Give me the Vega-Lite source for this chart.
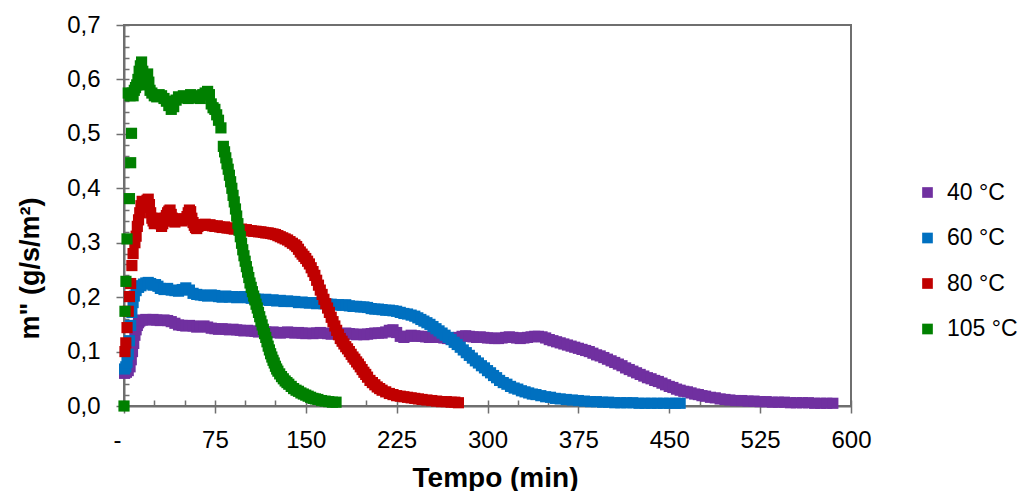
{
"$schema":"https://vega.github.io/schema/vega-lite/v6.json",
"width":727,"height":381,
"autosize":{"type":"none"},
"padding":{"left":124,"top":25,"right":175,"bottom":85},
"background":"white",
"config":{"view":{"stroke":"#6f6f6f","strokeWidth":2},"font":"Liberation Sans"},
"datasets":{"d":[
{"s":"40 °C","t":0.5,"m":0.06},{"s":"40 °C","t":2,"m":0.062},{"s":"40 °C","t":3.5,"m":0.065},{"s":"40 °C","t":5,"m":0.072},{"s":"40 °C","t":6,"m":0.085},{"s":"40 °C","t":7,"m":0.1},{"s":"40 °C","t":8,"m":0.115},{"s":"40 °C","t":9,"m":0.13},{"s":"40 °C","t":10,"m":0.14},{"s":"40 °C","t":11,"m":0.148},{"s":"40 °C","t":12,"m":0.153},{"s":"40 °C","t":13,"m":0.156},{"s":"40 °C","t":15,"m":0.158},{"s":"40 °C","t":18,"m":0.159},{"s":"40 °C","t":21,"m":0.158},{"s":"40 °C","t":24,"m":0.159},{"s":"40 °C","t":27,"m":0.158},{"s":"40 °C","t":30,"m":0.157},{"s":"40 °C","t":33,"m":0.158},{"s":"40 °C","t":36,"m":0.157},{"s":"40 °C","t":39,"m":0.155},{"s":"40 °C","t":42,"m":0.152},{"s":"40 °C","t":45,"m":0.149},{"s":"40 °C","t":48,"m":0.148},{"s":"40 °C","t":51,"m":0.147},{"s":"40 °C","t":54,"m":0.148},{"s":"40 °C","t":57,"m":0.147},{"s":"40 °C","t":60,"m":0.145},{"s":"40 °C","t":63,"m":0.146},{"s":"40 °C","t":66,"m":0.147},{"s":"40 °C","t":69,"m":0.145},{"s":"40 °C","t":72,"m":0.143},{"s":"40 °C","t":75,"m":0.142},{"s":"40 °C","t":78,"m":0.141},{"s":"40 °C","t":81,"m":0.142},{"s":"40 °C","t":84,"m":0.141},{"s":"40 °C","t":87,"m":0.14},{"s":"40 °C","t":90,"m":0.141},{"s":"40 °C","t":93,"m":0.14},{"s":"40 °C","t":96,"m":0.139},{"s":"40 °C","t":99,"m":0.138},{"s":"40 °C","t":102,"m":0.139},{"s":"40 °C","t":105,"m":0.138},{"s":"40 °C","t":108,"m":0.137},{"s":"40 °C","t":111,"m":0.136},{"s":"40 °C","t":114,"m":0.137},{"s":"40 °C","t":117,"m":0.136},{"s":"40 °C","t":120,"m":0.135},{"s":"40 °C","t":123,"m":0.136},{"s":"40 °C","t":126,"m":0.135},{"s":"40 °C","t":129,"m":0.134},{"s":"40 °C","t":132,"m":0.135},{"s":"40 °C","t":135,"m":0.136},{"s":"40 °C","t":138,"m":0.135},{"s":"40 °C","t":141,"m":0.134},{"s":"40 °C","t":144,"m":0.135},{"s":"40 °C","t":147,"m":0.134},{"s":"40 °C","t":150,"m":0.133},{"s":"40 °C","t":153,"m":0.134},{"s":"40 °C","t":156,"m":0.133},{"s":"40 °C","t":159,"m":0.134},{"s":"40 °C","t":162,"m":0.135},{"s":"40 °C","t":165,"m":0.134},{"s":"40 °C","t":168,"m":0.133},{"s":"40 °C","t":171,"m":0.132},{"s":"40 °C","t":174,"m":0.133},{"s":"40 °C","t":177,"m":0.132},{"s":"40 °C","t":180,"m":0.133},{"s":"40 °C","t":183,"m":0.134},{"s":"40 °C","t":186,"m":0.133},{"s":"40 °C","t":189,"m":0.132},{"s":"40 °C","t":192,"m":0.131},{"s":"40 °C","t":195,"m":0.132},{"s":"40 °C","t":198,"m":0.131},{"s":"40 °C","t":201,"m":0.132},{"s":"40 °C","t":204,"m":0.133},{"s":"40 °C","t":207,"m":0.134},{"s":"40 °C","t":210,"m":0.134},{"s":"40 °C","t":213,"m":0.134},{"s":"40 °C","t":216,"m":0.136},{"s":"40 °C","t":219,"m":0.139},{"s":"40 °C","t":222,"m":0.14},{"s":"40 °C","t":225,"m":0.135},{"s":"40 °C","t":228,"m":0.128},{"s":"40 °C","t":231,"m":0.126},{"s":"40 °C","t":234,"m":0.128},{"s":"40 °C","t":237,"m":0.13},{"s":"40 °C","t":240,"m":0.129},{"s":"40 °C","t":243,"m":0.128},{"s":"40 °C","t":246,"m":0.128},{"s":"40 °C","t":249,"m":0.127},{"s":"40 °C","t":252,"m":0.126},{"s":"40 °C","t":255,"m":0.127},{"s":"40 °C","t":258,"m":0.127},{"s":"40 °C","t":261,"m":0.126},{"s":"40 °C","t":264,"m":0.125},{"s":"40 °C","t":267,"m":0.124},{"s":"40 °C","t":270,"m":0.124},{"s":"40 °C","t":273,"m":0.125},{"s":"40 °C","t":276,"m":0.126},{"s":"40 °C","t":279,"m":0.128},{"s":"40 °C","t":282,"m":0.129},{"s":"40 °C","t":285,"m":0.128},{"s":"40 °C","t":288,"m":0.127},{"s":"40 °C","t":291,"m":0.126},{"s":"40 °C","t":294,"m":0.127},{"s":"40 °C","t":297,"m":0.126},{"s":"40 °C","t":300,"m":0.125},{"s":"40 °C","t":303,"m":0.125},{"s":"40 °C","t":306,"m":0.124},{"s":"40 °C","t":309,"m":0.124},{"s":"40 °C","t":312,"m":0.125},{"s":"40 °C","t":315,"m":0.126},{"s":"40 °C","t":318,"m":0.127},{"s":"40 °C","t":321,"m":0.126},{"s":"40 °C","t":324,"m":0.125},{"s":"40 °C","t":327,"m":0.124},{"s":"40 °C","t":330,"m":0.125},{"s":"40 °C","t":333,"m":0.126},{"s":"40 °C","t":336,"m":0.127},{"s":"40 °C","t":339,"m":0.128},{"s":"40 °C","t":342,"m":0.128},{"s":"40 °C","t":345,"m":0.127},{"s":"40 °C","t":348,"m":0.125},{"s":"40 °C","t":351,"m":0.122},{"s":"40 °C","t":354,"m":0.12},{"s":"40 °C","t":357,"m":0.118},{"s":"40 °C","t":360,"m":0.116},{"s":"40 °C","t":363,"m":0.114},{"s":"40 °C","t":366,"m":0.112},{"s":"40 °C","t":369,"m":0.11},{"s":"40 °C","t":372,"m":0.108},{"s":"40 °C","t":375,"m":0.106},{"s":"40 °C","t":378,"m":0.104},{"s":"40 °C","t":381,"m":0.102},{"s":"40 °C","t":384,"m":0.1},{"s":"40 °C","t":387,"m":0.097},{"s":"40 °C","t":390,"m":0.094},{"s":"40 °C","t":393,"m":0.092},{"s":"40 °C","t":396,"m":0.089},{"s":"40 °C","t":399,"m":0.086},{"s":"40 °C","t":402,"m":0.083},{"s":"40 °C","t":405,"m":0.08},{"s":"40 °C","t":408,"m":0.077},{"s":"40 °C","t":411,"m":0.074},{"s":"40 °C","t":414,"m":0.07},{"s":"40 °C","t":417,"m":0.067},{"s":"40 °C","t":420,"m":0.064},{"s":"40 °C","t":423,"m":0.061},{"s":"40 °C","t":426,"m":0.058},{"s":"40 °C","t":429,"m":0.055},{"s":"40 °C","t":432,"m":0.052},{"s":"40 °C","t":435,"m":0.05},{"s":"40 °C","t":438,"m":0.047},{"s":"40 °C","t":441,"m":0.045},{"s":"40 °C","t":444,"m":0.042},{"s":"40 °C","t":447,"m":0.039},{"s":"40 °C","t":450,"m":0.036},{"s":"40 °C","t":453,"m":0.034},{"s":"40 °C","t":456,"m":0.031},{"s":"40 °C","t":459,"m":0.029},{"s":"40 °C","t":462,"m":0.027},{"s":"40 °C","t":465,"m":0.026},{"s":"40 °C","t":468,"m":0.024},{"s":"40 °C","t":471,"m":0.022},{"s":"40 °C","t":474,"m":0.021},{"s":"40 °C","t":477,"m":0.019},{"s":"40 °C","t":480,"m":0.018},{"s":"40 °C","t":484,"m":0.016},{"s":"40 °C","t":488,"m":0.015},{"s":"40 °C","t":492,"m":0.013},{"s":"40 °C","t":496,"m":0.012},{"s":"40 °C","t":500,"m":0.011},{"s":"40 °C","t":505,"m":0.01},{"s":"40 °C","t":510,"m":0.01},{"s":"40 °C","t":515,"m":0.009},{"s":"40 °C","t":520,"m":0.009},{"s":"40 °C","t":525,"m":0.008},{"s":"40 °C","t":530,"m":0.008},{"s":"40 °C","t":535,"m":0.007},{"s":"40 °C","t":540,"m":0.007},{"s":"40 °C","t":545,"m":0.007},{"s":"40 °C","t":550,"m":0.006},{"s":"40 °C","t":555,"m":0.006},{"s":"40 °C","t":560,"m":0.006},{"s":"40 °C","t":565,"m":0.006},{"s":"40 °C","t":570,"m":0.005},{"s":"40 °C","t":575,"m":0.005},{"s":"40 °C","t":580,"m":0.005},{"s":"40 °C","t":585,"m":0.005},
{"s":"60 °C","t":0.5,"m":0.068},{"s":"60 °C","t":1.5,"m":0.072},{"s":"60 °C","t":2.5,"m":0.08},{"s":"60 °C","t":3.5,"m":0.095},{"s":"60 °C","t":4.5,"m":0.12},{"s":"60 °C","t":5.5,"m":0.148},{"s":"60 °C","t":6.5,"m":0.172},{"s":"60 °C","t":7.5,"m":0.19},{"s":"60 °C","t":8.5,"m":0.202},{"s":"60 °C","t":10,"m":0.212},{"s":"60 °C","t":12,"m":0.218},{"s":"60 °C","t":14,"m":0.221},{"s":"60 °C","t":16,"m":0.224},{"s":"60 °C","t":18,"m":0.226},{"s":"60 °C","t":20,"m":0.227},{"s":"60 °C","t":22,"m":0.225},{"s":"60 °C","t":24,"m":0.222},{"s":"60 °C","t":26,"m":0.223},{"s":"60 °C","t":28,"m":0.22},{"s":"60 °C","t":30,"m":0.216},{"s":"60 °C","t":33,"m":0.214},{"s":"60 °C","t":36,"m":0.216},{"s":"60 °C","t":39,"m":0.213},{"s":"60 °C","t":42,"m":0.212},{"s":"60 °C","t":45,"m":0.211},{"s":"60 °C","t":48,"m":0.214},{"s":"60 °C","t":51,"m":0.217},{"s":"60 °C","t":54,"m":0.213},{"s":"60 °C","t":57,"m":0.207},{"s":"60 °C","t":60,"m":0.205},{"s":"60 °C","t":63,"m":0.204},{"s":"60 °C","t":66,"m":0.203},{"s":"60 °C","t":69,"m":0.202},{"s":"60 °C","t":72,"m":0.204},{"s":"60 °C","t":75,"m":0.203},{"s":"60 °C","t":78,"m":0.201},{"s":"60 °C","t":81,"m":0.2},{"s":"60 °C","t":84,"m":0.202},{"s":"60 °C","t":87,"m":0.2},{"s":"60 °C","t":90,"m":0.201},{"s":"60 °C","t":93,"m":0.199},{"s":"60 °C","t":96,"m":0.2},{"s":"60 °C","t":99,"m":0.201},{"s":"60 °C","t":102,"m":0.199},{"s":"60 °C","t":105,"m":0.198},{"s":"60 °C","t":108,"m":0.197},{"s":"60 °C","t":111,"m":0.196},{"s":"60 °C","t":114,"m":0.195},{"s":"60 °C","t":117,"m":0.196},{"s":"60 °C","t":120,"m":0.194},{"s":"60 °C","t":123,"m":0.195},{"s":"60 °C","t":126,"m":0.193},{"s":"60 °C","t":129,"m":0.194},{"s":"60 °C","t":132,"m":0.192},{"s":"60 °C","t":135,"m":0.193},{"s":"60 °C","t":138,"m":0.192},{"s":"60 °C","t":141,"m":0.192},{"s":"60 °C","t":144,"m":0.19},{"s":"60 °C","t":147,"m":0.191},{"s":"60 °C","t":150,"m":0.19},{"s":"60 °C","t":153,"m":0.189},{"s":"60 °C","t":156,"m":0.19},{"s":"60 °C","t":159,"m":0.188},{"s":"60 °C","t":162,"m":0.189},{"s":"60 °C","t":165,"m":0.188},{"s":"60 °C","t":168,"m":0.187},{"s":"60 °C","t":171,"m":0.187},{"s":"60 °C","t":174,"m":0.186},{"s":"60 °C","t":177,"m":0.186},{"s":"60 °C","t":180,"m":0.185},{"s":"60 °C","t":183,"m":0.186},{"s":"60 °C","t":186,"m":0.184},{"s":"60 °C","t":189,"m":0.183},{"s":"60 °C","t":192,"m":0.183},{"s":"60 °C","t":195,"m":0.182},{"s":"60 °C","t":198,"m":0.182},{"s":"60 °C","t":201,"m":0.181},{"s":"60 °C","t":204,"m":0.179},{"s":"60 °C","t":207,"m":0.178},{"s":"60 °C","t":210,"m":0.178},{"s":"60 °C","t":213,"m":0.177},{"s":"60 °C","t":216,"m":0.176},{"s":"60 °C","t":219,"m":0.176},{"s":"60 °C","t":222,"m":0.175},{"s":"60 °C","t":225,"m":0.174},{"s":"60 °C","t":228,"m":0.172},{"s":"60 °C","t":231,"m":0.17},{"s":"60 °C","t":234,"m":0.169},{"s":"60 °C","t":237,"m":0.167},{"s":"60 °C","t":240,"m":0.165},{"s":"60 °C","t":242.5,"m":0.162},{"s":"60 °C","t":245,"m":0.159},{"s":"60 °C","t":247.5,"m":0.156},{"s":"60 °C","t":250,"m":0.153},{"s":"60 °C","t":252.5,"m":0.15},{"s":"60 °C","t":255,"m":0.146},{"s":"60 °C","t":257.5,"m":0.142},{"s":"60 °C","t":260,"m":0.138},{"s":"60 °C","t":262.5,"m":0.134},{"s":"60 °C","t":265,"m":0.13},{"s":"60 °C","t":267.5,"m":0.126},{"s":"60 °C","t":270,"m":0.122},{"s":"60 °C","t":272.5,"m":0.117},{"s":"60 °C","t":275,"m":0.113},{"s":"60 °C","t":277.5,"m":0.108},{"s":"60 °C","t":280,"m":0.103},{"s":"60 °C","t":282.5,"m":0.098},{"s":"60 °C","t":285,"m":0.093},{"s":"60 °C","t":287.5,"m":0.088},{"s":"60 °C","t":290,"m":0.083},{"s":"60 °C","t":292.5,"m":0.079},{"s":"60 °C","t":295,"m":0.074},{"s":"60 °C","t":297.5,"m":0.07},{"s":"60 °C","t":300,"m":0.065},{"s":"60 °C","t":302.5,"m":0.061},{"s":"60 °C","t":305,"m":0.056},{"s":"60 °C","t":307.5,"m":0.052},{"s":"60 °C","t":310,"m":0.047},{"s":"60 °C","t":313,"m":0.043},{"s":"60 °C","t":316,"m":0.04},{"s":"60 °C","t":319,"m":0.036},{"s":"60 °C","t":322,"m":0.033},{"s":"60 °C","t":325,"m":0.031},{"s":"60 °C","t":328,"m":0.028},{"s":"60 °C","t":331,"m":0.026},{"s":"60 °C","t":334,"m":0.024},{"s":"60 °C","t":337,"m":0.022},{"s":"60 °C","t":340,"m":0.021},{"s":"60 °C","t":344,"m":0.019},{"s":"60 °C","t":348,"m":0.017},{"s":"60 °C","t":352,"m":0.016},{"s":"60 °C","t":356,"m":0.014},{"s":"60 °C","t":360,"m":0.013},{"s":"60 °C","t":365,"m":0.012},{"s":"60 °C","t":370,"m":0.011},{"s":"60 °C","t":375,"m":0.01},{"s":"60 °C","t":380,"m":0.009},{"s":"60 °C","t":385,"m":0.008},{"s":"60 °C","t":390,"m":0.008},{"s":"60 °C","t":395,"m":0.007},{"s":"60 °C","t":400,"m":0.007},{"s":"60 °C","t":405,"m":0.006},{"s":"60 °C","t":410,"m":0.006},{"s":"60 °C","t":415,"m":0.006},{"s":"60 °C","t":420,"m":0.006},{"s":"60 °C","t":425,"m":0.005},{"s":"60 °C","t":430,"m":0.005},{"s":"60 °C","t":435,"m":0.005},{"s":"60 °C","t":440,"m":0.005},{"s":"60 °C","t":445,"m":0.005},{"s":"60 °C","t":450,"m":0.005},{"s":"60 °C","t":455,"m":0.005},{"s":"60 °C","t":459,"m":0.005},
{"s":"80 °C","t":0.8,"m":0.1},{"s":"80 °C","t":1.5,"m":0.116},{"s":"80 °C","t":2.5,"m":0.144},{"s":"80 °C","t":3.5,"m":0.174},{"s":"80 °C","t":4.5,"m":0.201},{"s":"80 °C","t":5.5,"m":0.225},{"s":"80 °C","t":6.5,"m":0.258},{"s":"80 °C","t":7.5,"m":0.28},{"s":"80 °C","t":9,"m":0.3},{"s":"80 °C","t":10,"m":0.312},{"s":"80 °C","t":11,"m":0.33},{"s":"80 °C","t":12,"m":0.342},{"s":"80 °C","t":13,"m":0.355},{"s":"80 °C","t":14,"m":0.368},{"s":"80 °C","t":15,"m":0.376},{"s":"80 °C","t":16,"m":0.372},{"s":"80 °C","t":17,"m":0.365},{"s":"80 °C","t":18,"m":0.37},{"s":"80 °C","t":19,"m":0.378},{"s":"80 °C","t":20,"m":0.38},{"s":"80 °C","t":21,"m":0.37},{"s":"80 °C","t":22,"m":0.355},{"s":"80 °C","t":23,"m":0.345},{"s":"80 °C","t":24,"m":0.34},{"s":"80 °C","t":25,"m":0.335},{"s":"80 °C","t":26,"m":0.338},{"s":"80 °C","t":27,"m":0.342},{"s":"80 °C","t":28,"m":0.345},{"s":"80 °C","t":29,"m":0.34},{"s":"80 °C","t":30,"m":0.335},{"s":"80 °C","t":31,"m":0.33},{"s":"80 °C","t":32,"m":0.335},{"s":"80 °C","t":33,"m":0.34},{"s":"80 °C","t":34,"m":0.345},{"s":"80 °C","t":35,"m":0.35},{"s":"80 °C","t":36,"m":0.355},{"s":"80 °C","t":37,"m":0.358},{"s":"80 °C","t":38,"m":0.36},{"s":"80 °C","t":39,"m":0.352},{"s":"80 °C","t":40,"m":0.345},{"s":"80 °C","t":41,"m":0.34},{"s":"80 °C","t":42,"m":0.338},{"s":"80 °C","t":43,"m":0.342},{"s":"80 °C","t":44,"m":0.344},{"s":"80 °C","t":46,"m":0.343},{"s":"80 °C","t":48,"m":0.34},{"s":"80 °C","t":50,"m":0.343},{"s":"80 °C","t":52,"m":0.348},{"s":"80 °C","t":53,"m":0.355},{"s":"80 °C","t":54,"m":0.36},{"s":"80 °C","t":55,"m":0.357},{"s":"80 °C","t":56,"m":0.345},{"s":"80 °C","t":57,"m":0.337},{"s":"80 °C","t":58,"m":0.332},{"s":"80 °C","t":59,"m":0.328},{"s":"80 °C","t":60,"m":0.326},{"s":"80 °C","t":61,"m":0.33},{"s":"80 °C","t":62,"m":0.333},{"s":"80 °C","t":63,"m":0.332},{"s":"80 °C","t":65,"m":0.333},{"s":"80 °C","t":67,"m":0.334},{"s":"80 °C","t":69,"m":0.332},{"s":"80 °C","t":71,"m":0.333},{"s":"80 °C","t":73,"m":0.331},{"s":"80 °C","t":75,"m":0.33},{"s":"80 °C","t":77,"m":0.331},{"s":"80 °C","t":79,"m":0.329},{"s":"80 °C","t":81,"m":0.328},{"s":"80 °C","t":83,"m":0.329},{"s":"80 °C","t":85,"m":0.327},{"s":"80 °C","t":87,"m":0.327},{"s":"80 °C","t":89,"m":0.326},{"s":"80 °C","t":91,"m":0.325},{"s":"80 °C","t":93,"m":0.326},{"s":"80 °C","t":95,"m":0.324},{"s":"80 °C","t":97,"m":0.325},{"s":"80 °C","t":99,"m":0.323},{"s":"80 °C","t":101,"m":0.324},{"s":"80 °C","t":103,"m":0.322},{"s":"80 °C","t":105,"m":0.322},{"s":"80 °C","t":107,"m":0.321},{"s":"80 °C","t":109,"m":0.321},{"s":"80 °C","t":111,"m":0.32},{"s":"80 °C","t":113,"m":0.32},{"s":"80 °C","t":115,"m":0.319},{"s":"80 °C","t":117,"m":0.318},{"s":"80 °C","t":119,"m":0.318},{"s":"80 °C","t":121,"m":0.317},{"s":"80 °C","t":123,"m":0.316},{"s":"80 °C","t":125,"m":0.315},{"s":"80 °C","t":127,"m":0.313},{"s":"80 °C","t":129,"m":0.311},{"s":"80 °C","t":131,"m":0.309},{"s":"80 °C","t":133,"m":0.307},{"s":"80 °C","t":135,"m":0.305},{"s":"80 °C","t":137,"m":0.302},{"s":"80 °C","t":139,"m":0.299},{"s":"80 °C","t":141,"m":0.296},{"s":"80 °C","t":142.5,"m":0.293},{"s":"80 °C","t":144,"m":0.288},{"s":"80 °C","t":145.5,"m":0.283},{"s":"80 °C","t":147,"m":0.279},{"s":"80 °C","t":148.5,"m":0.275},{"s":"80 °C","t":150,"m":0.271},{"s":"80 °C","t":151.5,"m":0.266},{"s":"80 °C","t":153,"m":0.261},{"s":"80 °C","t":154.5,"m":0.254},{"s":"80 °C","t":156,"m":0.247},{"s":"80 °C","t":157.5,"m":0.24},{"s":"80 °C","t":159,"m":0.231},{"s":"80 °C","t":160.5,"m":0.222},{"s":"80 °C","t":162,"m":0.213},{"s":"80 °C","t":163.5,"m":0.205},{"s":"80 °C","t":165,"m":0.196},{"s":"80 °C","t":166.5,"m":0.188},{"s":"80 °C","t":168,"m":0.18},{"s":"80 °C","t":169.5,"m":0.172},{"s":"80 °C","t":171,"m":0.163},{"s":"80 °C","t":172.5,"m":0.155},{"s":"80 °C","t":174,"m":0.147},{"s":"80 °C","t":175.5,"m":0.139},{"s":"80 °C","t":177,"m":0.131},{"s":"80 °C","t":178.5,"m":0.124},{"s":"80 °C","t":180,"m":0.119},{"s":"80 °C","t":181.5,"m":0.114},{"s":"80 °C","t":183,"m":0.109},{"s":"80 °C","t":184.5,"m":0.105},{"s":"80 °C","t":186,"m":0.1},{"s":"80 °C","t":187.5,"m":0.095},{"s":"80 °C","t":189,"m":0.09},{"s":"80 °C","t":190.5,"m":0.086},{"s":"80 °C","t":192,"m":0.081},{"s":"80 °C","t":193.5,"m":0.077},{"s":"80 °C","t":195,"m":0.072},{"s":"80 °C","t":196.5,"m":0.067},{"s":"80 °C","t":198,"m":0.062},{"s":"80 °C","t":199.5,"m":0.058},{"s":"80 °C","t":201,"m":0.053},{"s":"80 °C","t":203,"m":0.047},{"s":"80 °C","t":205,"m":0.043},{"s":"80 °C","t":207,"m":0.039},{"s":"80 °C","t":209,"m":0.035},{"s":"80 °C","t":211,"m":0.032},{"s":"80 °C","t":213,"m":0.029},{"s":"80 °C","t":216,"m":0.026},{"s":"80 °C","t":219,"m":0.023},{"s":"80 °C","t":222,"m":0.021},{"s":"80 °C","t":225,"m":0.019},{"s":"80 °C","t":228,"m":0.018},{"s":"80 °C","t":231,"m":0.017},{"s":"80 °C","t":234,"m":0.016},{"s":"80 °C","t":237,"m":0.015},{"s":"80 °C","t":240,"m":0.014},{"s":"80 °C","t":243,"m":0.013},{"s":"80 °C","t":246,"m":0.012},{"s":"80 °C","t":250,"m":0.011},{"s":"80 °C","t":254,"m":0.01},{"s":"80 °C","t":258,"m":0.009},{"s":"80 °C","t":262,"m":0.008},{"s":"80 °C","t":266,"m":0.008},{"s":"80 °C","t":270,"m":0.007},{"s":"80 °C","t":273,"m":0.007},{"s":"80 °C","t":276,"m":0.006},
{"s":"105 °C","t":0,"m":0},{"s":"105 °C","t":0.8,"m":0.174},{"s":"105 °C","t":1.6,"m":0.229},{"s":"105 °C","t":2.5,"m":0.307},{"s":"105 °C","t":4.5,"m":0.381},{"s":"105 °C","t":5.5,"m":0.447},{"s":"105 °C","t":6.2,"m":0.501},{"s":"105 °C","t":3.5,"m":0.575},{"s":"105 °C","t":5,"m":0.57},{"s":"105 °C","t":6.8,"m":0.575},{"s":"105 °C","t":7.5,"m":0.57},{"s":"105 °C","t":8.5,"m":0.58},{"s":"105 °C","t":9.5,"m":0.585},{"s":"105 °C","t":10.5,"m":0.59},{"s":"105 °C","t":11.5,"m":0.6},{"s":"105 °C","t":12.5,"m":0.615},{"s":"105 °C","t":13.5,"m":0.625},{"s":"105 °C","t":14.5,"m":0.632},{"s":"105 °C","t":15.5,"m":0.615},{"s":"105 °C","t":16.5,"m":0.6},{"s":"105 °C","t":17.5,"m":0.59},{"s":"105 °C","t":18.5,"m":0.605},{"s":"105 °C","t":19.5,"m":0.61},{"s":"105 °C","t":20.5,"m":0.595},{"s":"105 °C","t":21.5,"m":0.58},{"s":"105 °C","t":23,"m":0.575},{"s":"105 °C","t":25,"m":0.57},{"s":"105 °C","t":27,"m":0.568},{"s":"105 °C","t":29,"m":0.572},{"s":"105 °C","t":31,"m":0.57},{"s":"105 °C","t":33,"m":0.565},{"s":"105 °C","t":35,"m":0.56},{"s":"105 °C","t":37,"m":0.552},{"s":"105 °C","t":39,"m":0.545},{"s":"105 °C","t":41,"m":0.55},{"s":"105 °C","t":43,"m":0.562},{"s":"105 °C","t":45,"m":0.568},{"s":"105 °C","t":47,"m":0.566},{"s":"105 °C","t":49,"m":0.57},{"s":"105 °C","t":51,"m":0.568},{"s":"105 °C","t":53,"m":0.565},{"s":"105 °C","t":55,"m":0.572},{"s":"105 °C","t":57,"m":0.57},{"s":"105 °C","t":59,"m":0.566},{"s":"105 °C","t":61,"m":0.568},{"s":"105 °C","t":63,"m":0.565},{"s":"105 °C","t":65,"m":0.572},{"s":"105 °C","t":67,"m":0.575},{"s":"105 °C","t":69,"m":0.578},{"s":"105 °C","t":70.5,"m":0.572},{"s":"105 °C","t":72,"m":0.555},{"s":"105 °C","t":73.5,"m":0.548},{"s":"105 °C","t":75,"m":0.545},{"s":"105 °C","t":76.5,"m":0.535},{"s":"105 °C","t":78,"m":0.525},{"s":"105 °C","t":80,"m":0.511},{"s":"105 °C","t":82,"m":0.477},{"s":"105 °C","t":83,"m":0.467},{"s":"105 °C","t":84,"m":0.456},{"s":"105 °C","t":85,"m":0.445},{"s":"105 °C","t":86,"m":0.435},{"s":"105 °C","t":87,"m":0.424},{"s":"105 °C","t":88,"m":0.412},{"s":"105 °C","t":89,"m":0.4},{"s":"105 °C","t":90,"m":0.387},{"s":"105 °C","t":91,"m":0.375},{"s":"105 °C","t":92,"m":0.362},{"s":"105 °C","t":93,"m":0.349},{"s":"105 °C","t":94,"m":0.335},{"s":"105 °C","t":95,"m":0.323},{"s":"105 °C","t":96,"m":0.311},{"s":"105 °C","t":97,"m":0.299},{"s":"105 °C","t":98,"m":0.287},{"s":"105 °C","t":99,"m":0.276},{"s":"105 °C","t":100,"m":0.266},{"s":"105 °C","t":101,"m":0.256},{"s":"105 °C","t":102,"m":0.246},{"s":"105 °C","t":103,"m":0.236},{"s":"105 °C","t":104,"m":0.226},{"s":"105 °C","t":105,"m":0.218},{"s":"105 °C","t":106,"m":0.21},{"s":"105 °C","t":107,"m":0.202},{"s":"105 °C","t":108,"m":0.195},{"s":"105 °C","t":109,"m":0.187},{"s":"105 °C","t":110,"m":0.18},{"s":"105 °C","t":111,"m":0.172},{"s":"105 °C","t":112,"m":0.164},{"s":"105 °C","t":113,"m":0.156},{"s":"105 °C","t":114,"m":0.149},{"s":"105 °C","t":115,"m":0.141},{"s":"105 °C","t":116,"m":0.133},{"s":"105 °C","t":117,"m":0.126},{"s":"105 °C","t":118,"m":0.118},{"s":"105 °C","t":119,"m":0.11},{"s":"105 °C","t":120,"m":0.103},{"s":"105 °C","t":121,"m":0.096},{"s":"105 °C","t":122,"m":0.09},{"s":"105 °C","t":123,"m":0.084},{"s":"105 °C","t":124,"m":0.079},{"s":"105 °C","t":125,"m":0.073},{"s":"105 °C","t":126,"m":0.068},{"s":"105 °C","t":127,"m":0.064},{"s":"105 °C","t":128.5,"m":0.059},{"s":"105 °C","t":130,"m":0.054},{"s":"105 °C","t":131.5,"m":0.05},{"s":"105 °C","t":133,"m":0.046},{"s":"105 °C","t":134.5,"m":0.043},{"s":"105 °C","t":136,"m":0.04},{"s":"105 °C","t":138,"m":0.036},{"s":"105 °C","t":140,"m":0.032},{"s":"105 °C","t":142,"m":0.029},{"s":"105 °C","t":144,"m":0.027},{"s":"105 °C","t":146,"m":0.024},{"s":"105 °C","t":148,"m":0.022},{"s":"105 °C","t":150,"m":0.02},{"s":"105 °C","t":152,"m":0.018},{"s":"105 °C","t":154,"m":0.016},{"s":"105 °C","t":156,"m":0.014},{"s":"105 °C","t":158,"m":0.013},{"s":"105 °C","t":160,"m":0.012},{"s":"105 °C","t":163,"m":0.01},{"s":"105 °C","t":166,"m":0.009},{"s":"105 °C","t":169,"m":0.008},{"s":"105 °C","t":172,"m":0.007},{"s":"105 °C","t":175,"m":0.007}
]},
"data":{"name":"d"},
"layer":[
{"mark":{"type":"point","shape":"square","filled":true,"size":125,"opacity":1,"strokeWidth":0},
 "encoding":{
  "x":{"field":"t","type":"quantitative","scale":{"domain":[0,600],"nice":false,"zero":false},
   "axis":{"orient":"bottom","values":[0,75,150,225,300,375,450,525,600],"grid":false,"domainColor":"#6f6f6f","domainWidth":2,"tickColor":"#6f6f6f","tickWidth":1.5,"tickSize":7,"labelFont":"Liberation Sans","labelFontSize":24,"labelColor":"black","labelPadding":15,"labelFlush":false,"labelOverlap":false,"labelExpr":"datum.value == 0 ? '-' : datum.label","labelOffset":{"condition":{"test":"datum.value == 0","value":-7},"value":0},"title":"Tempo (min)","titleFont":"Liberation Sans","titleFontSize":28,"titleFontWeight":"bold","titleColor":"black","titleX":371,"titleY":80,"titleBaseline":"alphabetic"}},
  "y":{"field":"m","type":"quantitative","scale":{"domain":[0,0.7],"nice":false},
   "axis":{"orient":"left","values":[0,0.1,0.2,0.3,0.4,0.5,0.6,0.7],"format":".1f","labelExpr":"replace(datum.label, '.', ',')","grid":false,"domainColor":"#6f6f6f","domainWidth":2,"tickColor":"#6f6f6f","tickWidth":1.5,"tickSize":8,"labelFont":"Liberation Sans","labelFontSize":24,"labelColor":"black","labelPadding":16,"labelFlush":false,"labelOverlap":false,"title":"m\" (g/s/m²)","titleFont":"Liberation Sans","titleFontSize":27,"titleFontWeight":"bold","titleColor":"black","titleX":-86,"titleY":243,"titleAngle":-90,"titleBaseline":"alphabetic","titleAlign":"center"}},
  "color":{"field":"s","type":"nominal","scale":{"domain":["40 °C","60 °C","80 °C","105 °C"],"range":["#7030A0","#0070C0","#C00000","#008000"]},
   "legend":{"orient":"none","legendX":792,"legendY":156,"title":null,"symbolType":"square","symbolSize":114,"symbolStrokeWidth":0,"labelFont":"Liberation Sans","labelFontSize":23,"labelColor":"black","labelOffset":8,"rowPadding":21.5,"padding":0}}
 }},
{"mark":{"type":"point","opacity":0},
 "encoding":{
  "x":{"field":"t","type":"quantitative","axis":{"orient":"bottom","values":[0,25,50,75,100,125,150,175,200,225,250,275,300,325,350,375,400,425,450,475,500,525,550,575,600],"grid":false,"domain":false,"labels":false,"title":null,"tickColor":"#6f6f6f","tickWidth":1.5,"tickSize":-6}},
  "y":{"field":"m","type":"quantitative","axis":{"orient":"left","values":[0,0.02,0.04,0.06,0.08,0.1,0.12,0.14,0.16,0.18,0.2,0.22,0.24,0.26,0.28,0.3,0.32,0.34,0.36,0.38,0.4,0.42,0.44,0.46,0.48,0.5,0.52,0.54,0.56,0.58,0.6,0.62,0.64,0.66,0.68,0.7],"grid":false,"domain":false,"labels":false,"title":null,"tickColor":"#6f6f6f","tickWidth":1.5,"tickSize":-5}}
 }}
],
"resolve":{"axis":{"x":"independent","y":"independent"}}
}
